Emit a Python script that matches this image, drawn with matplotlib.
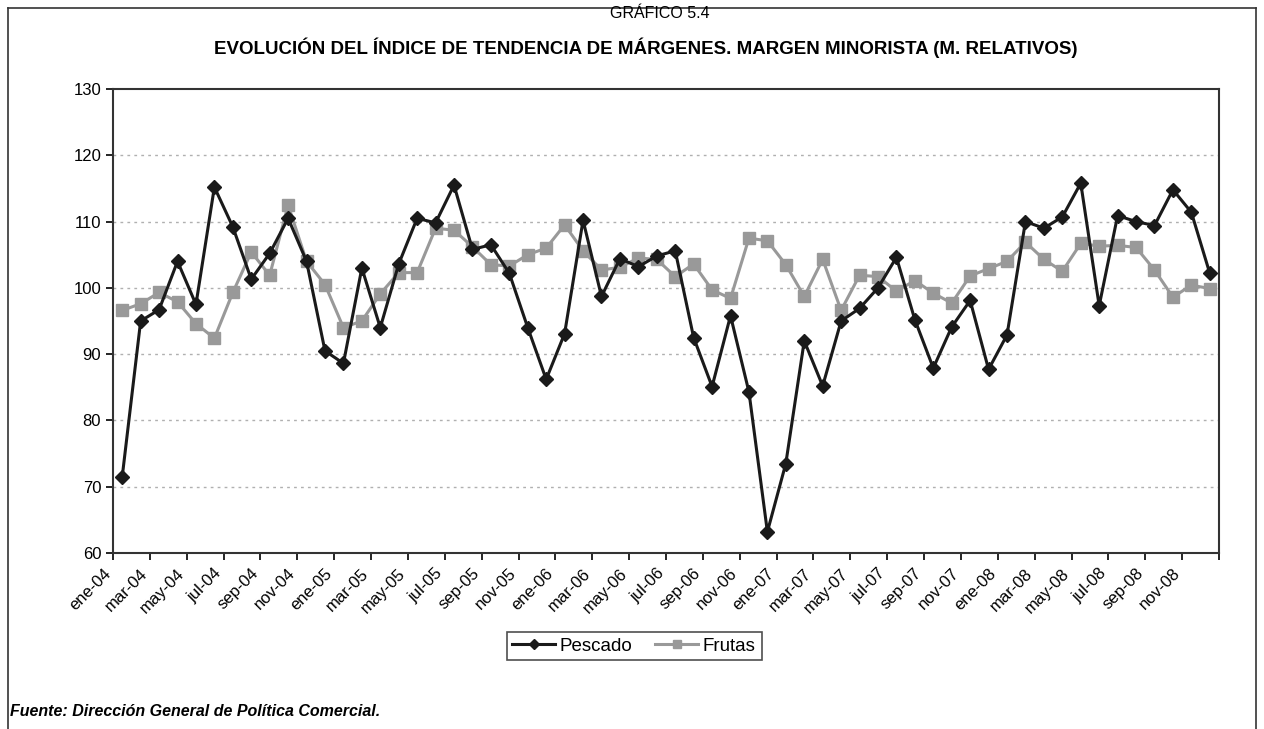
import matplotlib
matplotlib.use("Agg")
import matplotlib.pyplot as plt
from matplotlib.lines import Line2D
from matplotlib.transforms import ScaledTranslation

plt.rcParams['font.family'] = ['Liberation Sans', 'DejaVu Sans']

# Meses ene-04 .. dic-08
meses_abr = ['ene', 'feb', 'mar', 'abr', 'may', 'jun',
             'jul', 'ago', 'sep', 'oct', 'nov', 'dic']
anios = ['04', '05', '06', '07', '08']
meses = [f'{m}-{a}' for a in anios for m in meses_abr]

pescado = [71.5, 95.0, 96.7, 104.0, 97.5, 115.2, 109.2, 101.3, 105.2, 110.5,
           104.0, 90.5, 88.6, 103.0, 94.0, 103.6, 110.5, 109.8, 115.5, 105.8,
           106.5, 102.2, 94.0, 86.2, 93.1, 110.2, 98.7, 104.4, 103.2, 104.8,
           105.6, 92.5, 85.1, 95.8, 84.3, 63.2, 73.5, 92.0, 85.2, 95.0,
           96.9, 100.0, 104.6, 95.2, 87.9, 94.1, 98.1, 87.7, 92.9, 110.0,
           109.0, 110.7, 115.8, 97.3, 110.9, 110.0, 109.4, 114.8, 111.4, 102.2]

frutas = [96.6, 97.6, 99.3, 97.9, 94.6, 92.4, 99.3, 105.4, 101.9, 112.5,
          104.0, 100.5, 94.0, 95.0, 99.1, 102.3, 102.3, 109.0, 108.7, 106.2,
          103.5, 103.3, 105.0, 106.0, 109.5, 105.6, 102.7, 103.1, 104.5, 104.3,
          101.7, 103.6, 99.7, 98.4, 107.5, 107.1, 103.5, 98.7, 104.3, 96.6,
          101.9, 101.7, 99.5, 101.1, 99.2, 97.7, 101.8, 102.9, 104.0, 106.9,
          104.3, 102.5, 106.7, 106.3, 106.4, 106.1, 102.7, 98.6, 100.4, 99.9]

W, H = 1264, 729
fig = plt.figure(figsize=(W / 100, H / 100), dpi=100)
ax = fig.add_axes([113 / W, 1 - 553 / H, (1219 - 113) / W, (553 - 89) / H])

x = list(range(len(meses)))
ax.plot(x, pescado, color='#1a1a1a', lw=2.2, marker='D', ms=7.5,
        mec='#1a1a1a', mfc='#1a1a1a', label='Pescado', zorder=4)
ax.plot(x, frutas, color='#999999', lw=2.2, marker='s', ms=8,
        mec='#999999', mfc='#999999', label='Frutas', zorder=3)

ax.set_yticks(range(60, 131, 10))
ax.tick_params(axis='y', labelsize=12, length=5, width=1.2, direction='out')

# marcas en los límites de categoría, etiqueta cada dos meses
ax.set_xticks([i - 0.5 for i in range(0, len(meses) + 1, 2)])
ax.set_xticklabels(meses[::2] + [''], rotation=45, ha='right', va='center',
                   rotation_mode='anchor', fontsize=12)
ax.tick_params(axis='x', length=5, width=1.2, direction='out', pad=8)
desplaza = ScaledTranslation(-0.045, 0, fig.dpi_scale_trans)
for lab in ax.get_xticklabels():
    lab.set_transform(lab.get_transform() + desplaza)

ax.set_xlim(-0.5, len(meses) - 0.5)
ax.set_ylim(60, 130)

for y in range(70, 130, 10):
    ax.axhline(y, color='#b0b0b0', lw=1, ls=(0, (2, 3)), zorder=1)

for s in ax.spines.values():
    s.set_color('#333333')
    s.set_linewidth(1.5)

leg = ax.legend(loc='center', bbox_to_anchor=(634 / W, 1 - 646 / H),
                bbox_transform=fig.transFigure, ncol=2, fontsize=13.5,
                frameon=True, fancybox=False, edgecolor='#222222',
                markerscale=0.65, handlelength=2.3, handletextpad=0.25,
                columnspacing=1.2, borderpad=0.3)
leg.get_frame().set_linewidth(1.2)

fig.text(660 / W, 1 - 14 / H, 'GRÁFICO 5.4', ha='center', va='center',
         fontsize=11.5)
fig.text(646 / W, 1 - 48 / H,
         'EVOLUCIÓN DEL ÍNDICE DE TENDENCIA DE MÁRGENES. MARGEN MINORISTA (M. RELATIVOS)',
         ha='center', va='center', fontsize=13.5, fontweight='bold')
fig.text(10 / W, 1 - 711 / H, 'Fuente: Dirección General de Política Comercial.',
         ha='left', va='center', fontsize=11.5, fontweight='bold', style='italic')

# recuadro exterior
for xs, ys in [([8, 8], [729, 8]), ([8, 1256], [8, 8]), ([1256, 1256], [8, 729])]:
    fig.add_artist(Line2D([v / W for v in xs], [1 - v / H for v in ys],
                          color='#333333', lw=1.2))

fig.savefig('out.png', dpi=100)
